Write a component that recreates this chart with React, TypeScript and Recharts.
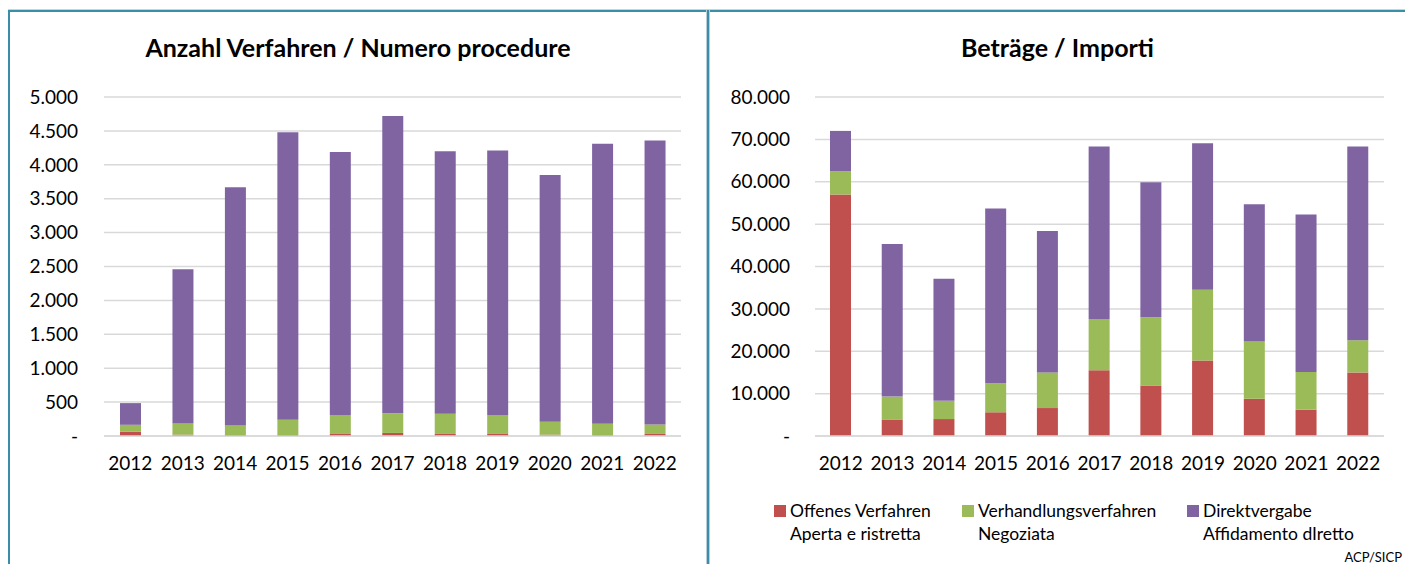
import React from "react";
import { BarChart, Bar, XAxis, YAxis, CartesianGrid } from "recharts";

const years = ["2012", "2013", "2014", "2015", "2016", "2017", "2018", "2019", "2020", "2021", "2022"];

// Left chart: number of procedures
const countOpen = [65, 20, 15, 15, 30, 45, 30, 30, 20, 15, 30];
const countNegotiated = [100, 165, 140, 225, 280, 290, 300, 280, 190, 165, 140];
const countDirect = [320, 2275, 3515, 4240, 3880, 4385, 3870, 3900, 3640, 4130, 4190];

// Right chart: amounts
const amountOpen = [57000, 3900, 4000, 5600, 6600, 15500, 11900, 17800, 8800, 6200, 15000];
const amountNegotiated = [5500, 5400, 4300, 6900, 8400, 12100, 16100, 16700, 13500, 8900, 7600];
const amountDirect = [9500, 36000, 28800, 41200, 33400, 40700, 31900, 34600, 32400, 37200, 45700];

const leftTicks = [0, 500, 1000, 1500, 2000, 2500, 3000, 3500, 4000, 4500, 5000];
const rightTicks = [0, 10000, 20000, 30000, 40000, 50000, 60000, 70000, 80000];

const seriesNames = [
  ["Offenes Verfahren", "Aperta e ristretta"],
  ["Verhandlungsverfahren", "Negoziata"],
  ["Direktvergabe", "Affidamento dIretto"],
];
const seriesColors = ["#c0504d", "#9bbb59", "#8064a2"];

const leftData = years.map((y, i) => ({ year: y, open: countOpen[i], neg: countNegotiated[i], direct: countDirect[i] }));
const rightData = years.map((y, i) => ({ year: y, open: amountOpen[i], neg: amountNegotiated[i], direct: amountDirect[i] }));

const FONT = "Lato, 'Open Sans', sans-serif";
const fmt = (v: number) => (v === 0 ? "-" : v.toLocaleString("de-DE"));
const tickStyle = { fill: "#000", fontSize: 19, fontFamily: FONT };
const TEAL = "#3a8ea8";

export default function App() {
  return (
    <div style={{ position: "absolute", left: 0, top: 0, width: 1405, height: 564, background: "#fff", overflow: "hidden", fontFamily: FONT }}>
      {/* borders */}
      <div style={{ position: "absolute", left: 8, top: 9, width: 1397, height: 1, background: "#c9d3d8" }} />
      <div style={{ position: "absolute", left: 8, top: 10, width: 1397, height: 2, background: TEAL }} />
      <div style={{ position: "absolute", left: 8, top: 10, width: 2, height: 554, background: TEAL }} />
      <div style={{ position: "absolute", left: 706, top: 10, width: 1, height: 554, background: "#b7cfd8" }} />
      <div style={{ position: "absolute", left: 707, top: 10, width: 2, height: 554, background: TEAL }} />
      <div style={{ position: "absolute", left: 709, top: 10, width: 1, height: 554, background: "#b7cfd8" }} />

      {/* titles */}
      <div style={{ position: "absolute", left: 10, width: 696, top: 32, textAlign: "center", fontWeight: 700, fontSize: 25, color: "#000" }}>
        Anzahl Verfahren / Numero procedure
      </div>
      <div style={{ position: "absolute", left: 710, width: 695, top: 32, textAlign: "center", fontWeight: 700, fontSize: 25, color: "#000" }}>
        Beträge / Importi
      </div>

      <div style={{ position: "absolute", left: 0, top: 0 }}>
        <BarChart width={706} height={564} data={leftData} margin={{ top: 97, right: 25, bottom: 98, left: 0 }}>
          <CartesianGrid vertical={false} stroke="#d9d9d9" strokeWidth={1.5} />
          <XAxis dataKey="year" tickLine={false} axisLine={{ stroke: "#d9d9d9", strokeWidth: 1.5 }} tick={tickStyle} tickMargin={15} height={30} interval={0} />
          <YAxis width={104} domain={[0, 5000]} ticks={leftTicks} tickFormatter={fmt} tickLine={false} axisLine={false} tick={tickStyle} tickMargin={20} interval={0} />
          <Bar dataKey="open" stackId="a" fill={seriesColors[0]} barSize={21} isAnimationActive={false} />
          <Bar dataKey="neg" stackId="a" fill={seriesColors[1]} barSize={21} isAnimationActive={false} />
          <Bar dataKey="direct" stackId="a" fill={seriesColors[2]} barSize={21} isAnimationActive={false} />
        </BarChart>
      </div>

      <div style={{ position: "absolute", left: 708, top: 0 }}>
        <BarChart width={697} height={564} data={rightData} margin={{ top: 97, right: 21, bottom: 98, left: 0 }}>
          <CartesianGrid vertical={false} stroke="#d9d9d9" strokeWidth={1.5} />
          <XAxis dataKey="year" tickLine={false} axisLine={{ stroke: "#d9d9d9", strokeWidth: 1.5 }} tick={tickStyle} tickMargin={15} height={30} interval={0} />
          <YAxis width={107} domain={[0, 80000]} ticks={rightTicks} tickFormatter={fmt} tickLine={false} axisLine={false} tick={tickStyle} tickMargin={19} interval={0} />
          <Bar dataKey="open" stackId="a" fill={seriesColors[0]} barSize={21} isAnimationActive={false} />
          <Bar dataKey="neg" stackId="a" fill={seriesColors[1]} barSize={21} isAnimationActive={false} />
          <Bar dataKey="direct" stackId="a" fill={seriesColors[2]} barSize={21} isAnimationActive={false} />
        </BarChart>
      </div>

      {/* legend */}
      {seriesNames.map((n, i) => {
        const lefts = [774, 962, 1187];
        return (
          <div key={i} style={{ position: "absolute", left: lefts[i], top: 499, fontSize: 17.5, lineHeight: "23px", color: "#000" }}>
            <div style={{ position: "absolute", left: 0, top: 6, width: 12, height: 12, background: seriesColors[i] }} />
            <div style={{ marginLeft: 16, whiteSpace: "nowrap" }}>{n[0]}</div>
            <div style={{ marginLeft: 16, whiteSpace: "nowrap" }}>{n[1]}</div>
          </div>
        );
      })}
      <div style={{ position: "absolute", right: 3, top: 549, fontSize: 13, color: "#000" }}>ACP/SICP</div>
    </div>
  );
}
